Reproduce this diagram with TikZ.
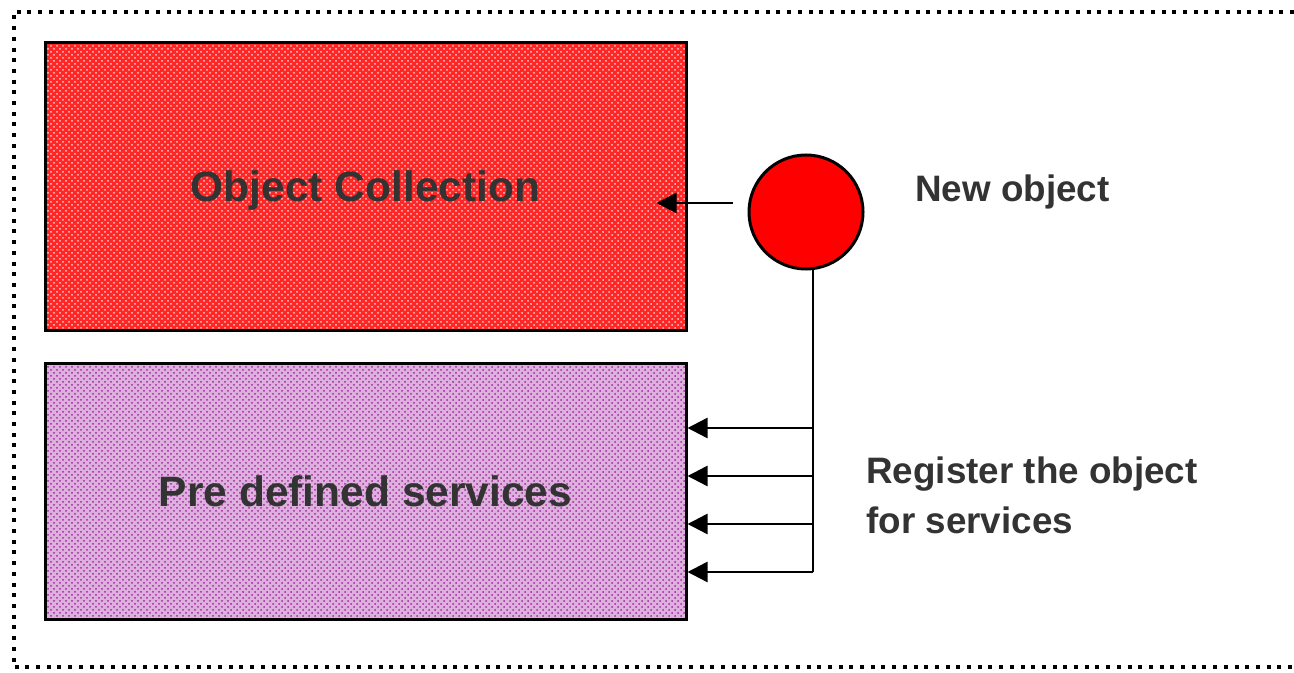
\documentclass[tikz,border=0pt]{standalone}
\usepackage{fontspec}
\setmainfont{Liberation Sans}
\usetikzlibrary{patterns,arrows.meta,calc}
\definecolor{txtgray}{RGB}{51,51,51}
\definecolor{svcpurple}{RGB}{160,40,160}
\definecolor{svcfill}{RGB}{222,176,222}
\tikzset{
    block/.style = {draw, rectangle, line width=1.5pt,
        minimum width=320.5pt,
        text=txtgray, font=\bfseries\fontsize{21.25}{25}\selectfont,
        text height=1.5em, text depth=0pt},
    collbox/.style = {block, minimum height=144pt,
        preaction={fill=red!85!white}, pattern=crosshatch dots, pattern color=white!80!red},
    svcbox/.style = {block, minimum height=128pt,
        preaction={fill=svcfill}, pattern=crosshatch dots, pattern color=svcpurple},
    objdot/.style = {draw, circle, fill=red, line width=1.5pt, minimum size=57pt},
    arrow/.style = {draw, line width=1.25pt, -{Triangle[length=10pt,width=10pt]}},
    lbl/.style = {anchor=base west, inner sep=0pt, text=txtgray, align=left,
        font=\bfseries\fontsize{18.4}{25}\selectfont},
    frame/.style = {line width=2pt, dash pattern=on 2pt off 3.35pt}
}
\begin{document}
\begin{tikzpicture}[x=0.5pt, y=-0.5pt]
    \useasboundingbox (0,0) rectangle (1294,673);
    \draw[frame] (1294,12) -- (13.5,12) -- (13.5,667) -- (1294,667);
    \node[collbox] (coll) at (365.5,187) {Object Collection};
    \node[svcbox] (svc) at (365.5,491) {Pre defined services};
    \node[objdot] (obj) at (806,212) {};
    \node[lbl] (newlbl) at (915,202) {New object};
    \node[lbl] (reglbl) at (866,533) {Register the object\\for services};
    \coordinate (src) at ([shift={(-15,-9)}]obj.west);
    \coordinate (dst) at ([xshift=-15.5pt]coll.east |- src);
    \draw[arrow] (src) -- (dst);
    \coordinate (tap) at ([xshift=3.5pt]obj.south);
    \draw[line width=1.25pt] (tap) -- (tap |- 0,572);
    \foreach \y in {428,476,524,572}
        \draw[arrow] (tap |- 0,\y) -- (svc.east |- 0,\y);
\end{tikzpicture}
\end{document}
